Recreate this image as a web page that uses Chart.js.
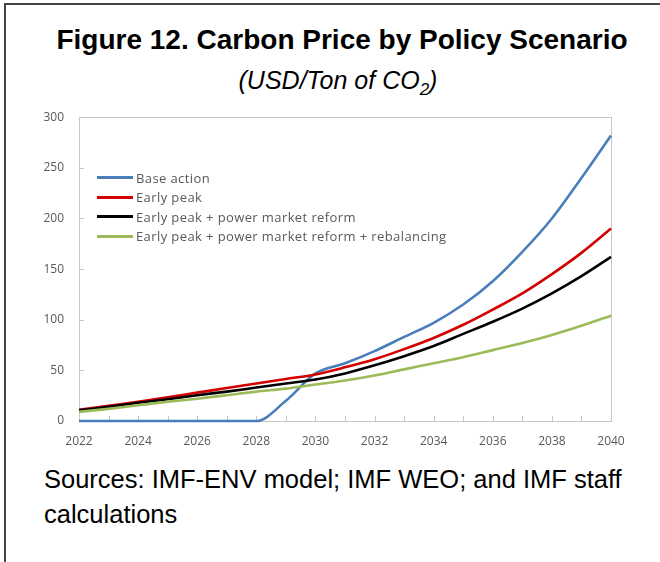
<!DOCTYPE html>
<html>
<head>
<meta charset="utf-8">
<script src="https://cdn.jsdelivr.net/npm/chart.js@4.4.1/dist/chart.umd.min.js"></script>
<style>
  body { margin: 0; background: #fff; }
  #page { position: relative; width: 660px; height: 562px; overflow: hidden; background: #fff; }
  #frame { position: absolute; left: 4px; top: 3px; right: -10px; bottom: -10px; border-left: 2px solid #444; border-top: 2px solid #444; }
  #title { position: absolute; left: 12px; width: 660px; top: 24px; text-align: center; font: bold 28px "Liberation Sans", Arial, sans-serif; color: #000; }
  #subtitle { position: absolute; left: 8px; width: 660px; top: 66px; text-align: center; font: italic 25px "Liberation Sans", Arial, sans-serif; color: #000; }
  #subtitle sub { font-size: 17px; }
  #source { position: absolute; left: 44px; top: 462px; width: 600px; font: 25.5px/35px "Liberation Sans", Arial, sans-serif; color: #000; }
  #chartBox { position: absolute; left: 0; top: 95px; width: 660px; height: 364px; }
  #legend { position: absolute; left: 97px; top: 168px; font: 13px "Open Sans", sans-serif; letter-spacing: 0.4px; color: #595959; }
  .item { display: flex; align-items: center; height: 19.5px; white-space: nowrap; }
  .swatch { width: 36px; height: 3px; margin-right: 3px; }
</style>
</head>
<body>
<div id="page">
  <div id="frame"></div>
  <div id="title">Figure 12. Carbon Price by Policy Scenario</div>
  <div id="subtitle">(USD/Ton of CO<sub>2</sub>)</div>
  <div id="chartBox"><canvas id="priceChart" width="660" height="364"></canvas></div>
  <div id="legend"></div>
  <div id="source">Sources: IMF-ENV model; IMF WEO; and IMF staff calculations</div>
</div>
<script>
const years = [2022, 2023, 2024, 2025, 2026, 2027, 2028, 2029, 2030, 2031,
               2032, 2033, 2034, 2035, 2036, 2037, 2038, 2039, 2040];

const baseAction = [0, 0, 0, 0, 0, 0, 0, 20, 47, 57, 69, 83, 97, 115, 138, 167, 200, 240, 282];
const earlyPeak = [11, 15, 19, 23.5, 28, 32.5, 37, 41.5, 46, 53, 61, 71, 82, 95, 110, 126, 145, 166, 190];
const powerReform = [10.5, 14, 18, 21.5, 25.5, 29, 33, 37, 41, 47, 55, 64, 74, 86, 98, 111, 126, 143, 162];
const rebalancing = [9, 12, 15.5, 19, 22, 25.5, 29, 32, 36, 40, 45, 51, 57, 63, 70, 77, 85, 94, 104];

const seriesNames = [
    'Base action',
    'Early peak',
    'Early peak + power market reform',
    'Early peak + power market reform + rebalancing'
];
const seriesValues = [baseAction, earlyPeak, powerReform, rebalancing];
const seriesColors = ['#4a7ebb', '#d40000', '#000000', '#9bbb59'];

const yTicks = [0, 50, 100, 150, 200, 250, 300];

// box around the plot plus the small inward tick marks
const plotFrame = {
    id: 'plotFrame',
    beforeDatasetsDraw(chart) {
        const ctx = chart.ctx;
        const a = chart.chartArea;
        const x = chart.scales.x;
        const y = chart.scales.y;
        ctx.save();
        ctx.strokeStyle = '#c6c6c6';
        ctx.lineWidth = 1;
        ctx.strokeRect(Math.round(a.left) + 0.5, Math.round(a.top) + 0.5,
            Math.round(a.right - a.left), Math.round(a.bottom - a.top));
        ctx.beginPath();
        x.ticks.forEach((t, i) => {
            const px = Math.round(x.getPixelForTick(i)) + 0.5;
            ctx.moveTo(px, a.bottom);
            ctx.lineTo(px, a.bottom - 5);
        });
        y.ticks.forEach((t, i) => {
            const py = Math.round(y.getPixelForTick(i)) + 0.5;
            ctx.moveTo(a.left, py);
            ctx.lineTo(a.left + 5, py);
        });
        ctx.stroke();
        ctx.restore();
    }
};

const ctx = document.getElementById('priceChart').getContext('2d');

new Chart(ctx, {
    type: 'line',
    data: {
        labels: years,
        datasets: seriesNames.map((name, i) => ({
            label: name,
            data: seriesValues[i],
            borderColor: seriesColors[i],
            backgroundColor: seriesColors[i],
            borderWidth: 2.6,
            pointRadius: 0,
            cubicInterpolationMode: 'monotone',
            clip: false
        })).reverse()
    },
    options: {
        responsive: false,
        animation: false,
        layout: { padding: { left: 0, right: 49, top: 7, bottom: 8 } },
        plugins: {
            legend: { display: false },
            tooltip: { enabled: false }
        },
        scales: {
            x: {
                offset: false,
                grid: { display: false, drawTicks: false },
                border: { display: false },
                afterFit(scale) { scale.height = 30; },
                ticks: {
                    autoSkip: false,
                    maxRotation: 0,
                    padding: 13,
                    color: '#595959',
                    font: { family: 'Open Sans', size: 12 },
                    callback: function (val) {
                        const yr = this.getLabelForValue(val);
                        return yr % 2 === 0 ? String(yr) : '';
                    }
                }
            },
            y: {
                min: 0,
                max: 300,
                afterFit(scale) { scale.width = 79; },
                afterBuildTicks(scale) { scale.ticks = yTicks.map(v => ({ value: v })); },
                grid: { display: false, drawTicks: false },
                border: { display: false },
                ticks: {
                    padding: 15,
                    color: '#595959',
                    font: { family: 'Open Sans', size: 12 }
                }
            }
        }
    },
    plugins: [plotFrame]
});

// legend inside the plot, top-left
const legendBox = document.getElementById('legend');
seriesNames.forEach((name, i) => {
    const row = document.createElement('div');
    row.className = 'item';
    row.innerHTML = '<span class="swatch" style="background:' + seriesColors[i] + '"></span>' + name;
    legendBox.appendChild(row);
});
</script>
</body>
</html>
